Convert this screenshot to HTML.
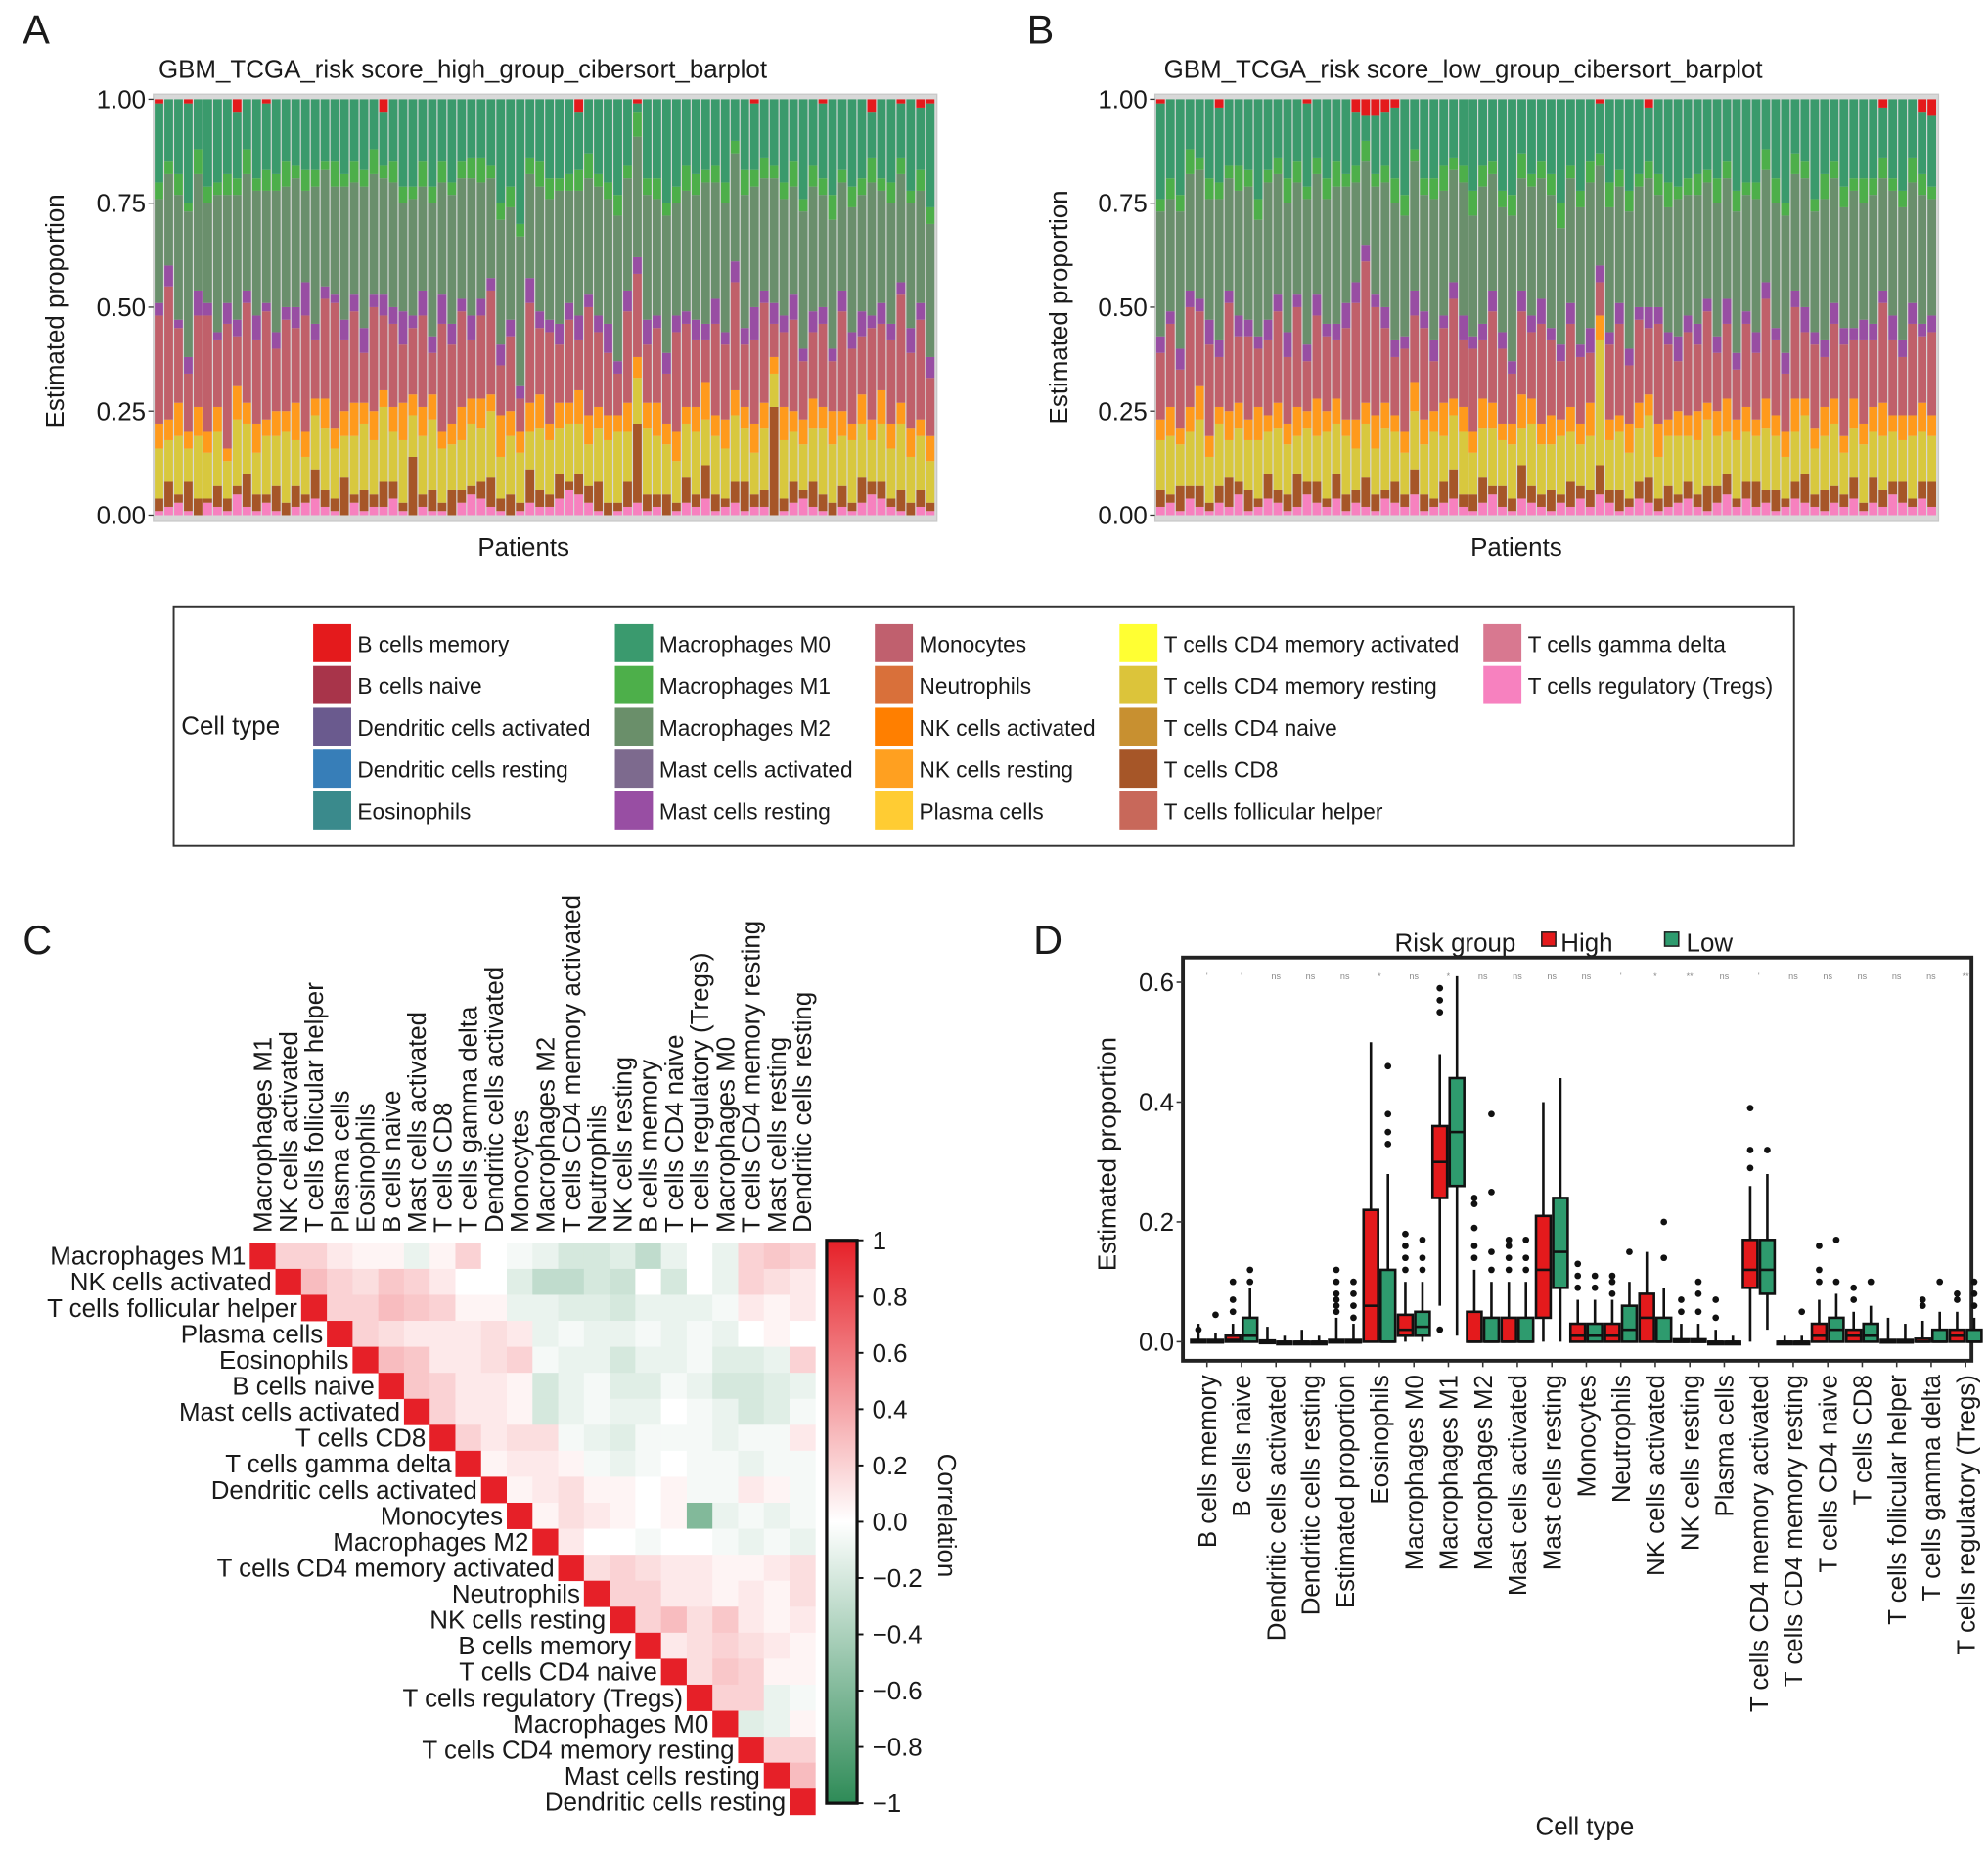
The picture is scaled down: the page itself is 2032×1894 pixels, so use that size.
<!DOCTYPE html>
<html><head><meta charset="utf-8">
<style>
html,body{margin:0;padding:0;background:#fff;}
svg{display:block;font-family:"Liberation Sans",Arial,sans-serif;}
text{fill:#1a1a1a;}
</style></head>
<body>
<svg id="fig" width="2032" height="1894" viewBox="0 0 1568 1461" xmlns="http://www.w3.org/2000/svg">
<rect x="0" y="0" width="1568" height="1461" fill="#fff"/>
<!-- Panel A -->
<text x="18" y="34" font-size="32">A</text>
<text x="125" y="61" font-size="20">GBM_TCGA_risk score_high_group_cibersort_barplot</text>
<text transform="translate(50,245) rotate(-90)" text-anchor="middle" font-size="20">Estimated proportion</text>
<text x="413" y="438" text-anchor="middle" font-size="20">Patients</text>
<g id="barsA"></g>
<!-- Panel B -->
<text x="810" y="34" font-size="32">B</text>
<text x="918" y="61" font-size="20">GBM_TCGA_risk score_low_group_cibersort_barplot</text>
<text transform="translate(842,242) rotate(-90)" text-anchor="middle" font-size="20">Estimated proportion</text>
<text x="1196" y="438" text-anchor="middle" font-size="20">Patients</text>
<g id="barsB"></g>
<!-- Legend -->
<rect x="137" y="478" width="1278" height="189" fill="#fff" stroke="#333" stroke-width="1.5"/>
<text x="143" y="579" font-size="20">Cell type</text>
<g id="legend"></g>
<!-- Panel C -->
<text x="18" y="752" font-size="32">C</text>
<g id="heat"></g>
<text transform="translate(740,1195) rotate(90)" text-anchor="middle" font-size="20">Correlation</text>
<!-- Panel D -->
<text x="815" y="752" font-size="32">D</text>
<text x="1100" y="750" font-size="20">Risk group</text>
<rect x="1216" y="735" width="11" height="11" fill="#e41a1c" stroke="#222" stroke-width="1.2"/>
<text x="1231" y="750" font-size="20">High</text>
<rect x="1313" y="735" width="11" height="11" fill="#2e9b6e" stroke="#222" stroke-width="1.2"/>
<text x="1330" y="750" font-size="20">Low</text>
<text transform="translate(880,910) rotate(-90)" text-anchor="middle" font-size="20">Estimated proportion</text>
<text x="1250" y="1447" text-anchor="middle" font-size="20">Cell type</text>
<g id="box"></g>
</svg>
<script>
const pinkH=[1,2,3,1,0,3,2,1,5,2,1,3,1,0,2,3,4,2,1,0,3,1,2,2,4,1,0,2,1,1,0,3,5,4,2,1,0,1,3,2,2,4,6,5,3,1,0,1,2,3,1,2,0,1,3,2,4,1,2,3,1,2,2,0,1,3,4,2,1,0,2,1,3,5,4,2,1,0,2,1];
const brownH=[3,6,2,7,4,1,5,3,2,8,4,2,6,3,5,2,7,4,3,9,2,5,3,6,4,2,14,3,5,2,6,3,2,4,7,3,5,2,8,4,3,6,2,5,4,7,3,2,6,19,4,3,5,2,6,3,8,4,2,5,7,3,4,26,3,5,2,6,4,3,5,2,6,3,4,2,5,3,4,2];
const yellowH=[12,10,14,8,15,11,13,9,16,12,10,14,12,17,11,9,13,15,12,10,14,16,13,18,12,15,10,14,17,13,11,12,15,13,16,10,14,12,9,15,13,11,14,12,10,13,15,17,12,11,16,14,12,10,13,15,11,14,12,16,13,10,15,8,14,12,11,13,16,14,12,15,13,10,14,12,16,11,13,10];
const orangeH=[6,5,8,4,7,5,6,3,8,5,7,4,6,5,9,6,4,7,5,6,8,5,7,4,6,9,5,7,6,4,5,8,6,7,4,10,6,5,7,8,4,6,5,8,7,5,6,4,7,5,6,8,5,7,4,6,9,5,7,6,5,7,6,4,8,5,6,7,5,8,6,4,7,5,8,6,5,7,4,6];
const roseH=[26,32,18,14,22,28,16,30,12,24,20,26,15,22,18,28,14,24,30,17,22,12,25,18,20,14,16,22,10,26,19,23,14,20,25,12,18,8,24,16,22,14,20,12,26,18,15,10,22,20,14,18,12,24,20,16,10,22,18,26,15,20,24,8,18,22,14,16,20,12,24,18,14,22,16,20,26,18,24,14];
const purpleH=[3,5,2,4,6,3,2,5,4,3,6,2,4,3,5,8,4,3,2,5,4,6,3,5,4,8,3,6,4,7,5,3,6,4,3,5,4,3,6,4,3,5,4,6,3,4,7,3,5,4,6,3,5,4,3,5,4,6,3,5,4,8,3,5,4,6,3,5,4,3,5,4,6,3,5,4,3,6,4,5];
const m2H=[25,22,30,35,28,24,33,26,30,28,30,27,34,29,31,22,33,28,26,32,27,34,29,28,30,26,28,25,32,27,31,29,33,28,24,30,27,36,25,30,29,32,27,30,28,31,30,35,27,29,30,28,33,27,29,30,34,28,31,26,32,29,27,30,28,26,33,30,27,31,26,30,28,32,27,29,26,30,27,32];
const m1H=[4,3,5,2,6,4,3,5,4,6,3,5,4,6,3,5,4,2,6,3,5,4,6,3,5,4,3,6,4,5,3,4,5,6,3,4,5,3,4,6,5,3,4,5,6,3,4,5,3,6,4,5,3,4,6,5,3,4,5,3,6,4,5,3,4,6,3,5,4,6,3,5,4,6,3,5,4,3,5,4];
const redH=[1,0,0,1,0,0,0,0,3,0,0,1,0,0,0,0,0,0,0,0,0,0,0,3,0,0,0,0,0,0,0,0,0,0,0,0,0,0,0,0,0,0,0,3,0,0,0,0,0,1,0,0,0,0,0,0,0,0,0,0,0,1,0,0,0,0,0,0,1,0,0,0,0,3,0,0,1,0,2,1];

const pinkL=[2,3,1,4,2,1,3,2,5,1,2,4,3,1,2,5,3,2,4,1,3,2,1,4,3,2,5,1,2,3,4,2,1,3,5,2,1,4,3,2,1,3,2,4,2,5,3,1,2,4,3,1,2,3,4,2,1,3,5,2,4,2,3,1,2,4,3,2,1,3,2,4,1,3,2,5,3,2,4,2];
const brownL=[4,2,6,3,5,2,4,7,3,5,2,6,3,4,8,3,5,2,6,4,3,7,4,2,5,3,6,4,2,5,7,3,4,6,2,5,3,8,4,3,5,2,6,3,4,7,3,5,2,4,6,3,5,2,4,3,6,4,5,2,4,6,3,5,2,4,7,3,5,4,3,5,2,6,4,3,5,2,4,6];
const yellowL=[12,14,10,13,16,11,15,9,13,12,14,10,15,12,9,13,11,16,12,14,10,13,11,15,12,10,14,12,16,11,13,15,10,12,14,11,13,9,15,12,11,14,12,10,13,30,12,14,11,13,15,10,12,14,11,13,16,12,10,14,12,11,15,13,10,12,14,11,13,15,10,12,14,11,13,12,10,15,12,11];
const orangeL=[5,7,4,6,8,5,4,7,6,5,8,4,6,5,7,4,9,5,6,4,7,5,8,6,4,5,7,6,5,8,4,6,5,7,6,4,5,8,6,5,7,4,6,5,8,6,5,4,7,6,5,8,4,6,5,7,4,6,8,5,6,4,7,5,6,8,4,5,7,6,4,7,5,6,8,4,6,5,7,5];
const roseL=[16,20,14,24,18,22,12,26,16,20,14,18,22,16,24,12,20,18,14,22,28,34,26,18,14,20,16,22,12,18,24,16,20,14,22,18,12,20,16,24,18,14,20,16,12,8,18,22,14,20,16,24,18,12,20,16,22,14,18,12,20,16,24,18,14,22,16,20,12,18,22,14,20,16,24,18,14,22,16,20];
const purpleL=[4,3,5,4,3,6,4,3,5,4,3,5,4,6,3,4,5,3,4,6,5,4,3,5,4,3,6,4,5,3,4,6,3,4,5,4,3,5,4,6,3,4,5,3,6,4,3,5,4,3,5,4,3,6,4,5,3,4,6,4,3,5,4,3,5,4,6,3,4,5,4,3,5,4,3,6,4,5,3,4];
const m2L=[30,27,33,28,31,29,34,27,30,32,28,33,29,31,27,35,29,30,33,28,24,20,26,30,33,29,31,28,34,30,27,32,29,33,28,30,35,27,31,29,32,28,30,33,35,24,30,28,33,29,31,27,30,33,29,31,28,32,29,34,28,32,27,30,33,28,31,29,34,30,29,33,28,31,27,30,32,29,31,28];
const m1L=[3,5,4,6,3,5,4,3,6,4,5,3,4,6,5,3,4,5,6,3,4,5,3,4,6,5,3,4,5,6,3,4,6,5,3,4,5,6,3,4,5,6,3,4,5,3,6,4,5,3,4,5,6,3,4,5,3,6,4,5,3,4,5,6,3,5,4,3,6,4,5,3,6,4,5,3,4,6,5,3];
const redL=[1,0,0,0,0,0,2,0,0,0,0,0,0,0,0,1,0,0,0,0,3,4,4,3,2,0,0,0,0,0,0,0,0,0,0,0,0,0,0,0,0,0,0,0,0,1,0,0,0,0,2,0,0,0,0,0,0,0,0,0,0,0,0,0,0,0,0,0,0,0,0,0,0,0,2,0,0,0,3,4];

const yTicksBar=[0,0.25,0.5,0.75,1];
const yTickLabelsBar=["0.00","0.25","0.50","0.75","1.00"];

const legendNames=["B cells memory","B cells naive","Dendritic cells activated","Dendritic cells resting","Eosinophils","Macrophages M0","Macrophages M1","Macrophages M2","Mast cells activated","Mast cells resting","Monocytes","Neutrophils","NK cells activated","NK cells resting","Plasma cells","T cells CD4 memory activated","T cells CD4 memory resting","T cells CD4 naive","T cells CD8","T cells follicular helper","T cells gamma delta","T cells regulatory (Tregs)"];
const legendColors=["#e41a1c","#a8344a","#6a5a8e","#377eb8","#3a8a8c","#3a9a6e","#4daf4a","#6a8f6a","#7d6a8e","#984ea3","#c0606e","#d9703a","#ff7f00","#ffa020","#ffcc33","#ffff33","#dcc43a","#c89030","#a65628","#c8685a","#d87890","#f781bf"];

const corrLabels=["Macrophages M1","NK cells activated","T cells follicular helper","Plasma cells","Eosinophils","B cells naive","Mast cells activated","T cells CD8","T cells gamma delta","Dendritic cells activated","Monocytes","Macrophages M2","T cells CD4 memory activated","Neutrophils","NK cells resting","B cells memory","T cells CD4 naive","T cells regulatory (Tregs)","Macrophages M0","T cells CD4 memory resting","Mast cells resting","Dendritic cells resting"];
const corrUpper=[
[.2,.2,.1,.05,.05,-.1,.05,.2,0,-.05,-.1,-.2,-.2,-.15,-.3,-.1,0,-.1,.2,.25,.2],
[.3,.2,.15,.25,.2,.1,0,0,-.15,-.3,-.3,-.2,-.25,0,-.2,0,-.1,.2,.15,.1],
[.2,.2,.3,.25,.2,.05,.05,-.1,-.1,-.15,-.15,-.2,-.1,-.1,-.1,-.05,.1,.05,.1],
[.2,.15,.1,.1,.1,.15,.1,-.1,-.05,-.1,-.1,-.05,-.1,-.05,-.1,0,.05,0],
[.3,.25,.1,.1,.15,.2,-.05,-.1,-.1,-.2,-.1,-.1,-.05,-.15,-.15,-.1,.2],
[.25,.2,.1,.1,.05,-.2,-.1,-.05,-.15,-.15,-.05,-.1,-.2,-.2,-.15,-.1],
[.2,.1,.1,.05,-.2,-.1,-.05,-.1,-.1,0,-.05,-.1,-.2,-.15,-.05],
[.2,.1,.15,.15,-.05,-.1,-.15,-.05,-.05,-.05,-.1,-.05,-.05,.1],
[.05,.1,.1,.05,-.05,-.1,-.05,0,-.05,-.05,-.1,-.05,-.05],
[.05,.1,.15,.05,.05,0,.05,-.05,-.05,.1,.05,-.05],
[.05,.15,.1,.05,0,.05,-.6,-.1,-.05,-.1,-.05],
[.1,0,0,-.05,0,0,-.05,-.1,-.05,-.1],
[.15,.2,.15,.1,.1,.05,.05,.1,.15],
[.2,.2,.1,.1,.05,.1,.05,.15],
[.2,.3,.15,.25,.1,.05,.1],
[.1,.15,.2,.15,.1,.05],
[.15,.25,.2,.05,.05],
[.2,.2,-.1,-.05],
[-.15,-.1,.05],
[.2,.2],
[.3]
];
const cbTicks=[1,0.8,0.6,0.4,0.2,0,-0.2,-0.4,-0.6,-0.8,-1];
const cbTickLabels=["1","0.8","0.6","0.4","0.2","0.0","\u22120.2","\u22120.4","\u22120.6","\u22120.8","\u22121"];

const boxCats=["B cells memory","B cells naive","Dendritic cells activated","Dendritic cells resting","Estimated proportion","Eosinophils","Macrophages M0","Macrophages M1","Macrophages M2","Mast cells activated","Mast cells resting","Monocytes","Neutrophils","NK cells activated","NK cells resting","Plasma cells","T cells CD4 memory activated","T cells CD4 memory resting","T cells CD4 naive","T cells CD8","T cells follicular helper","T cells gamma delta","T cells regulatory (Tregs)"];
const highQ1=[0,0,0,0,0,0,.01,.24,0,0,.04,0,0,0,0,0,.09,0,0,0,0,0,0];
const highMed=[0,.003,0,0,0,.06,.02,.30,0,0,.12,.01,.01,.04,0,0,.12,0,.01,.01,0,0,.01];
const highQ3=[.003,.01,.002,0,.003,.22,.045,.36,.05,.04,.21,.03,.03,.08,.004,0,.17,0,.03,.02,.003,.005,.02];
const highLo=[0,0,0,0,0,0,0,.06,0,0,0,0,0,0,0,0,0,0,0,0,0,0,0];
const highHi=[.03,.03,.025,.02,.04,.5,.1,.48,.12,.1,.4,.07,.07,.15,.03,.02,.26,.01,.07,.05,.04,.035,.05];
const lowQ1=[0,0,0,0,0,0,.01,.26,0,0,.09,0,0,0,0,0,.08,0,0,0,0,0,0];
const lowMed=[0,.01,0,0,0,0,.025,.35,0,0,.15,.01,.02,0,0,0,.12,0,.02,.01,0,0,0];
const lowQ3=[.003,.04,0,0,.003,.12,.05,.44,.04,.04,.24,.03,.06,.04,.004,0,.17,0,.04,.03,.003,.02,.02];
const lowLo=[0,0,0,0,0,0,0,.01,0,0,0,0,0,0,0,0,.02,0,0,0,0,0,0];
const lowHi=[.015,.09,.01,.01,.03,.28,.1,.61,.1,.1,.44,.07,.1,.09,.03,.01,.28,.01,.08,.06,.03,.05,.04];
const highOut=[[.02],[.05,.07,.1],[],[],[.05,.06,.07,.08,.1,.12],[],[.12,.14,.16,.18],[.02,.55,.57,.59],[.14,.16,.19,.23,.24],[.12,.14,.16,.17],[],[.09,.11,.13],[.08,.1,.11],[],[.05,.07],[.04,.07],[.29,.32,.39],[],[.1,.12,.16],[.07,.09],[],[.06,.07],[.07,.08]];
const lowOut=[[.045],[.1,.12],[],[],[.04,.06,.08,.1],[.33,.35,.38,.46],[.12,.14,.17],[],[.12,.15,.25,.38],[.12,.14,.17],[],[.09,.11],[.15],[.14,.2],[.05,.08,.1],[],[.32],[.05],[.1,.17],[.1],[],[.1],[.06,.08,.1]];
const sigMarks=["'","'","ns","ns","ns","*","ns","*","ns","ns","ns","ns","'","*","**","ns","'","ns","ns","ns","ns","ns","**"];
const boxTicks=[0,0.2,0.4,0.6];
const boxTickLabels=["0.0","0.2","0.4","0.6"];

const NS="http://www.w3.org/2000/svg";
function mk(tag,attrs,parent){const e=document.createElementNS(NS,tag);for(const k in attrs)e.setAttribute(k,attrs[k]);parent.appendChild(e);return e;}
function tx(str,attrs,parent){const e=mk("text",attrs,parent);e.textContent=str;return e;}

function drawBars(g,x0,w,series,prefix){
  const yTop=78,yBot=406;
  const yS=v=>yBot-v*(yBot-yTop);
  let frame=mk("rect",{x:x0-1,y:74,width:w+2,height:337,fill:"#d8d8d8",stroke:"#c8c8c8","stroke-width":1},g);
  
  
  const n=series[0].vals.length, step=w/n;
  for(let i=0;i<n;i++){
    let cum=0;
    const layers=series.map(s=>({c:s.c,v:s.rest?null:s.vals[i]/100}));
    const known=layers.reduce((a,l)=>a+(l.v===null?0:l.v),0);
    for(const l of layers){
      let v=l.v; if(v===null) v=Math.max(0,1-known);
      if(v<=0) continue;
      const r=mk("rect",{x:(x0+i*step).toFixed(2),y:yS(cum+v).toFixed(2),width:(step-0.9).toFixed(2),height:(yS(cum)-yS(cum+v)).toFixed(2),fill:l.c},g);
      
      
      cum+=v;
    }
  }
  yTicksBar.forEach((t,k)=>{
    const y=yS(t);
    const tl=mk("line",{x1:x0-5,x2:x0-1,y1:y,y2:y,stroke:"#333","stroke-width":1},g);
    
    
    const lb=tx(yTickLabelsBar[k],{x:x0-7,y:y+7,"text-anchor":"end","font-size":20},g);
    
    
  });
}
function seriesOf(p,b,y,o,r,pu,m2,m1,red){
  return [{c:"#f781bf",vals:p},{c:"#a65628",vals:b},{c:"#d8c83e",vals:y},{c:"#ff9a1c",vals:o},{c:"#c0606a",vals:r},{c:"#984ea3",vals:pu},{c:"#6a8f6c",vals:m2},{c:"#4daf4a",vals:m1},{c:"#3a9a6c",vals:p,rest:true},{c:"#e41a1c",vals:red}];
}
drawBars(document.getElementById("barsA"),122,616,seriesOf(pinkH,brownH,yellowH,orangeH,roseH,purpleH,m2H,m1H,redH),"panel-a");
drawBars(document.getElementById("barsB"),912,616,seriesOf(pinkL,brownL,yellowL,orangeL,roseL,purpleL,m2L,m1L,redL),"panel-b");

(function(){
  const g=document.getElementById("legend");
  const colX=[247,485,690,883,1170];
  legendNames.forEach((nm,i)=>{
    const c=Math.floor(i/5), r=i%5;
    const y=507+r*33;
    const sw=mk("rect",{x:colX[c],y:y-15,width:30,height:30,fill:legendColors[i]},g);
    
    
    const t=tx(nm,{x:colX[c]+35,y:y+7,"font-size":17.5},g);
    
    
  });
})();

(function(){
  const g=document.getElementById("heat");
  const gx=197, gy=980, n=corrLabels.length, cw=(643-197)/n, ch=(1431-980)/n;
  function col(v){
    const lerp=(a,b,t)=>Math.round(a+(b-a)*t);
    if(v>=0){return `rgb(${lerp(255,230,v)},${lerp(255,32,v)},${lerp(255,40,v)})`;}
    const t=-v; return `rgb(${lerp(255,46,t)},${lerp(255,139,t)},${lerp(255,87,t)})`;
  }
  for(let i=0;i<n;i++){
    const d=mk("rect",{x:gx+i*cw,y:gy+i*ch,width:cw+0.3,height:ch+0.3,fill:col(1)},g);
    
    
    corrUpper[i]&&corrUpper[i].forEach((v,k)=>{
      const j=i+1+k;
      const c=mk("rect",{x:gx+j*cw,y:gy+i*ch,width:cw+0.3,height:ch+0.3,fill:col(v)},g);
      
      
    });
    const rl=tx(corrLabels[i],{x:gx+i*cw-3,y:gy+(i+0.5)*ch+7,"text-anchor":"end","font-size":20},g);
    
    
    const cx=gx+(i+0.5)*cw+7;
    const cl=tx(corrLabels[i],{transform:`translate(${cx},972) rotate(-90)`,"font-size":20},g);
    
    
  }
  const defs=mk("defs",{},g);
  const lg=mk("linearGradient",{id:"cbg",x1:0,y1:0,x2:0,y2:1},defs);
  [[0,col(1)],[0.5,col(0)],[1,col(-1)]].forEach(s=>mk("stop",{offset:s[0],"stop-color":s[1]},lg));
  const cbTop=978, cbBot=1422;
  const cb=mk("rect",{x:652,y:cbTop,width:24,height:cbBot-cbTop,fill:"url(#cbg)",stroke:"#111","stroke-width":2.5},g);
  
  
  cbTicks.forEach((t,k)=>{
    const y=cbTop+(1-t)/2*(cbBot-cbTop);
    const l=mk("line",{x1:676,x2:681,y1:y,y2:y,stroke:"#111","stroke-width":1.5},g);
    
    
    const lb=tx(cbTickLabels[k],{x:688,y:y+7,"font-size":20},g);
    
    
  });
})();

(function(){
  const g=document.getElementById("box");
  const yS=v=>1058-v*472.5;
  const step=27.2, c0=952;
  const fr=mk("rect",{x:933,y:755,width:622,height:318,fill:"none",stroke:"#222","stroke-width":3},g);
  
  
  boxTicks.forEach((t,k)=>{
    const y=yS(t);
    const l=mk("line",{x1:928,x2:933,y1:y,y2:y,stroke:"#333","stroke-width":1.2},g);
    
    
    const lb=tx(boxTickLabels[k],{x:926,y:y+7,"text-anchor":"end","font-size":20},g);
    
    
  });
  function drawBox(x,w,q1,md,q3,lo,hi,outs,fill,name){
    const cx=x+w/2;
    const wl=mk("line",{x1:cx,x2:cx,y1:yS(lo),y2:yS(hi),stroke:"#111","stroke-width":2},g);
    
    
    const h=Math.max(2,yS(q1)-yS(q3));
    const b=mk("rect",{x:x,y:yS(q3),width:w,height:h,fill:fill,stroke:"#111","stroke-width":2},g);
    
    
    const m=mk("line",{x1:x,x2:x+w,y1:yS(md),y2:yS(md),stroke:"#111","stroke-width":2},g);
    
    
    outs.forEach(o=>{
      const d=mk("circle",{cx:cx,cy:yS(o),r:2.6,fill:"#111"},g);
      
      
    });
  }
  boxCats.forEach((cat,i)=>{
    const c=c0+i*step;
    drawBox(c-12.5,11.5,highQ1[i],highMed[i],highQ3[i],highLo[i],highHi[i],highOut[i],"#e41a1c","box-high");
    drawBox(c+1,11.5,lowQ1[i],lowMed[i],lowQ3[i],lowLo[i],lowHi[i],lowOut[i],"#2e9b6e","box-low");
    const s=tx(sigMarks[i],{x:c,y:772,"text-anchor":"middle","font-size":7,style:"fill:#888"},g);
    
    
    const tl=mk("line",{x1:c,x2:c,y1:1073,y2:1078,stroke:"#333","stroke-width":1.2},g);
    
    
    const lb=tx(cat,{transform:`translate(${c+7},1084) rotate(-90)`,"text-anchor":"end","font-size":20},g);
    
    
  });
})();
</script>
</body></html>
